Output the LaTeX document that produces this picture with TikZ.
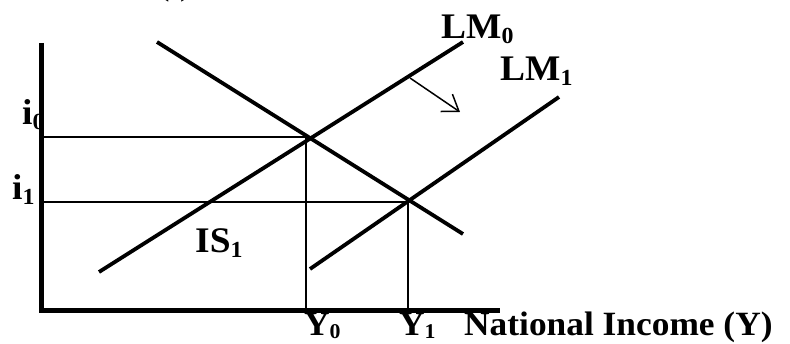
\documentclass[tikz,border=0pt]{standalone}
\usepackage{fontspec}
\setmainfont[BoldFeatures={FakeStretch=1.04}]{Liberation Serif}
\usetikzlibrary{arrows.meta}
\newcommand{\lbl}[2]{#1\raisebox{-5pt}{\fontsize{23}{23}\selectfont #2}}
\newcommand{\blbl}[2]{#1\raisebox{-3pt}{\fontsize{21}{21}\selectfont #2}}
\tikzset{
  curve/.style={line width=3.8pt},
  axis/.style={line width=5pt},
  guide/.style={line width=1.4pt},
  lab/.style={anchor=base west, inner sep=0pt, font=\fontsize{36}{40}\selectfont\bfseries},
  blab/.style={anchor=base west, inner sep=0pt, font=\fontsize{34}{38}\selectfont\bfseries},
  shift arrow/.style={line width=1.5pt, -{Straight Barb[length=15pt,width=21pt,line width=1.5pt]}}
}
\begin{document}
\begin{tikzpicture}[x=1pt,y=-1pt]
\useasboundingbox (0,0) rectangle (790,344);
% guide coordinates
\coordinate (ytop) at (41.5,43);
\coordinate (origin) at (41.5,311);
\coordinate (xend) at (500,311);
\coordinate (i0) at (41.5,137);
\coordinate (i1) at (41.5,202);
\coordinate (E0) at (306,137);
\coordinate (E1) at (408,202);
\coordinate (Y0) at (306,311);
\coordinate (Y1) at (408,311);
\coordinate (ISa) at (157,42);
\coordinate (ISb) at (463,234);
\coordinate (LM0a) at (99,272);
\coordinate (LM0b) at (463,42);
\coordinate (LM1a) at (310,269);
\coordinate (LM1b) at (559,97);
\coordinate (arra) at (410,78);
\coordinate (arrb) at (460,112);
% text labels
\node[lab] (ilab) at (22,125) {\lbl{i}{0}};
\node[lab] (i1lab) at (12,200) {\lbl{i}{1}};
\node[lab] (lm0lab) at (441,39) {\lbl{LM}{0}};
\node[lab] (lm1lab) at (500,81) {\lbl{LM}{1}};
\node[lab] (islab) at (195,253) {\lbl{IS}{1}};
\node[blab] (y0lab) at (304,336) {\blbl{Y}{0}};
\node[blab] (y1lab) at (399,336) {\blbl{Y}{1}};
\node[blab] (xlab) at (464,336) {National Income (Y)};
\node[lab] (toplab) at (157,-5) {(i)};
% guide lines
\draw[guide] (i0) -- (E0) -- (Y0);
\draw[guide] (i1) -- (E1) -- (Y1);
% curves
\draw[curve] (ISa) -- (ISb);
\draw[curve] (LM0a) -- (LM0b);
\draw[curve] (LM1a) -- (LM1b);
\draw[shift arrow] (arra) -- (arrb);
% axes
\draw[axis] (ytop) -- (origin) -- (xend);
\end{tikzpicture}
\end{document}
